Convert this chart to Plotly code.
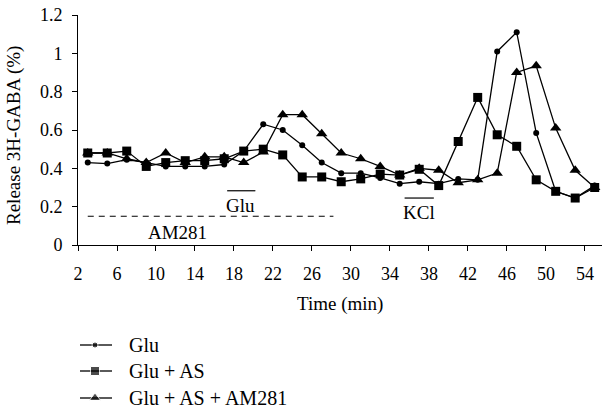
import plotly.graph_objects as go

time_min = [3, 5, 7, 9, 11, 13, 15, 17, 19, 21, 23, 25, 27, 29, 31, 33, 35, 37, 39, 41, 43, 45, 47, 49, 51, 53, 55]
glu = [0.43, 0.425, 0.445, 0.43, 0.41, 0.41, 0.41, 0.42, 0.49, 0.63, 0.60, 0.52, 0.43, 0.375, 0.375, 0.35,
       0.32, 0.33, 0.32, 0.345, 0.34, 1.01, 1.11, 0.585, 0.28, 0.245, 0.31]
glu_as = [0.48, 0.48, 0.49, 0.41, 0.43, 0.44, 0.44, 0.45, 0.49, 0.50, 0.47, 0.355, 0.355, 0.33, 0.345, 0.37,
          0.365, 0.395, 0.31, 0.54, 0.77, 0.575, 0.515, 0.34, 0.28, 0.245, 0.30]
glu_as_am = [0.48, 0.48, 0.45, 0.43, 0.48, 0.43, 0.46, 0.46, 0.43, 0.485, 0.68, 0.68, 0.58, 0.48, 0.45, 0.41,
             0.365, 0.40, 0.39, 0.325, 0.34, 0.375, 0.90, 0.935, 0.61, 0.39, 0.30]
series_names = ["Glu", "Glu + AS", "Glu + AS + AM281"]
x_ticks = list(range(2, 55, 4))
y_ticks = [0, 0.2, 0.4, 0.6, 0.8, 1.0, 1.2]
y_tick_text = ["0", "0.2", "0.4", "0.6", "0.8", "1", "1.2"]
x_title = "Time (min)"
y_title = "Release 3H-GABA (%)"

FONT = "Liberation Serif"
W, H = 602, 410
L, T = 78, 15
PLOT_BOTTOM = 245                     # pixel row of the x axis
AREA_H = H - T                        # plot area height (bottom margin 0)
main_dom = (H - PLOT_BOTTOM) / AREA_H  # main y-axis domain start


def py(pixel_y):
    return (H - pixel_y) / AREA_H


def px(pixel_x):
    return (pixel_x - L) / (W - L)


fig = go.Figure()
styles = [("circle", 6), ("square", 9), ("triangle-up", 10)]
for name, vals, (sym, size) in zip(series_names, [glu, glu_as, glu_as_am], styles):
    fig.add_trace(go.Scatter(
        x=time_min, y=vals, name=name, mode="lines+markers", showlegend=False,
        line=dict(color="black", width=1.3),
        marker=dict(symbol=sym, size=size, color="black"),
        cliponaxis=False, xaxis="x", yaxis="y",
    ))

# legend drawn on a helper axis pair (pixel units) below the chart
legend_rows = [H - 345, H - 371, H - 398]
for name, row, (sym, size) in zip(series_names, legend_rows, styles):
    fig.add_trace(go.Scatter(
        x=[2, 17, 34], y=[row, row, row], mode="lines+markers", showlegend=False,
        line=dict(color="black", width=1.3),
        marker=dict(symbol=sym, size=[0, size, 0], color="black"),
        cliponaxis=False, xaxis="x2", yaxis="y2", hoverinfo="skip",
    ))
    fig.add_annotation(x=49, y=row, xref="x2", yref="y2", text=name, showarrow=False,
                       xanchor="left", yanchor="middle",
                       font=dict(family=FONT, size=20, color="black"))

# AM281 dashed bar
fig.add_shape(type="line", x0=3, x1=28.2, y0=0.15, y1=0.15, xref="x", yref="y",
              line=dict(color="black", width=1.2, dash="6px,5px"))
fig.add_annotation(x=12.2, y=0.065, text="AM281", showarrow=False, xref="x", yref="y",
                   font=dict(family=FONT, size=19, color="black"))
# Glu overline + label
fig.add_shape(type="line", x0=17.3, x1=20.2, y0=0.283, y1=0.283, xref="x", yref="y",
              line=dict(color="black", width=1.2))
fig.add_annotation(x=18.7, y=0.205, text="Glu", showarrow=False, xref="x", yref="y",
                   font=dict(family=FONT, size=19, color="black"))
# KCl overline + label
fig.add_shape(type="line", x0=35.5, x1=38.5, y0=0.245, y1=0.245, xref="x", yref="y",
              line=dict(color="black", width=1.2))
fig.add_annotation(x=37.0, y=0.17, text="KCl", showarrow=False, xref="x", yref="y",
                   font=dict(family=FONT, size=19, color="black"))

# axis titles
fig.add_annotation(x=0.5, y=py(304), xref="paper", yref="paper", text=x_title, showarrow=False,
                   xanchor="center", yanchor="middle", font=dict(family=FONT, size=19, color="black"))
fig.add_annotation(x=px(14), y=py(136), xref="paper", yref="paper", text=y_title, showarrow=False,
                   textangle=-90, xanchor="center", yanchor="middle",
                   font=dict(family=FONT, size=19, color="black"))

fig.update_layout(
    template="none",
    width=W, height=H,
    margin=dict(l=L, r=0, t=T, b=0),
    paper_bgcolor="white", plot_bgcolor="rgba(0,0,0,0)",
    font=dict(family=FONT, size=18, color="black"),
    showlegend=False,
    xaxis=dict(range=[2, 55.75], tickvals=x_ticks, ticks="outside", ticklen=5, tickcolor="black",
               tickfont=dict(family=FONT, size=18), ticklabelstandoff=7, automargin=False,
               showline=True, linecolor="black", linewidth=1, showgrid=False, zeroline=False,
               anchor="y", domain=[0, 1]),
    yaxis=dict(range=[0, 1.2], tickvals=y_ticks, ticktext=y_tick_text, ticks="outside", ticklen=5,
               tickfont=dict(family=FONT, size=18), ticklabelstandoff=6, automargin=False,
               tickcolor="black", showline=True, linecolor="black", linewidth=1, showgrid=False,
               zeroline=False, domain=[main_dom, 1], anchor="x"),
    xaxis2=dict(range=[0, W - L], domain=[0, 1], anchor="y2", visible=False, fixedrange=True),
    yaxis2=dict(range=[0, H - PLOT_BOTTOM], domain=[0, main_dom], anchor="x2", visible=False,
                fixedrange=True),
)

fig.write_html("out.html", config={"displayModeBar": False},
               post_script="document.body.style.margin='0';document.body.style.overflow='hidden';")
